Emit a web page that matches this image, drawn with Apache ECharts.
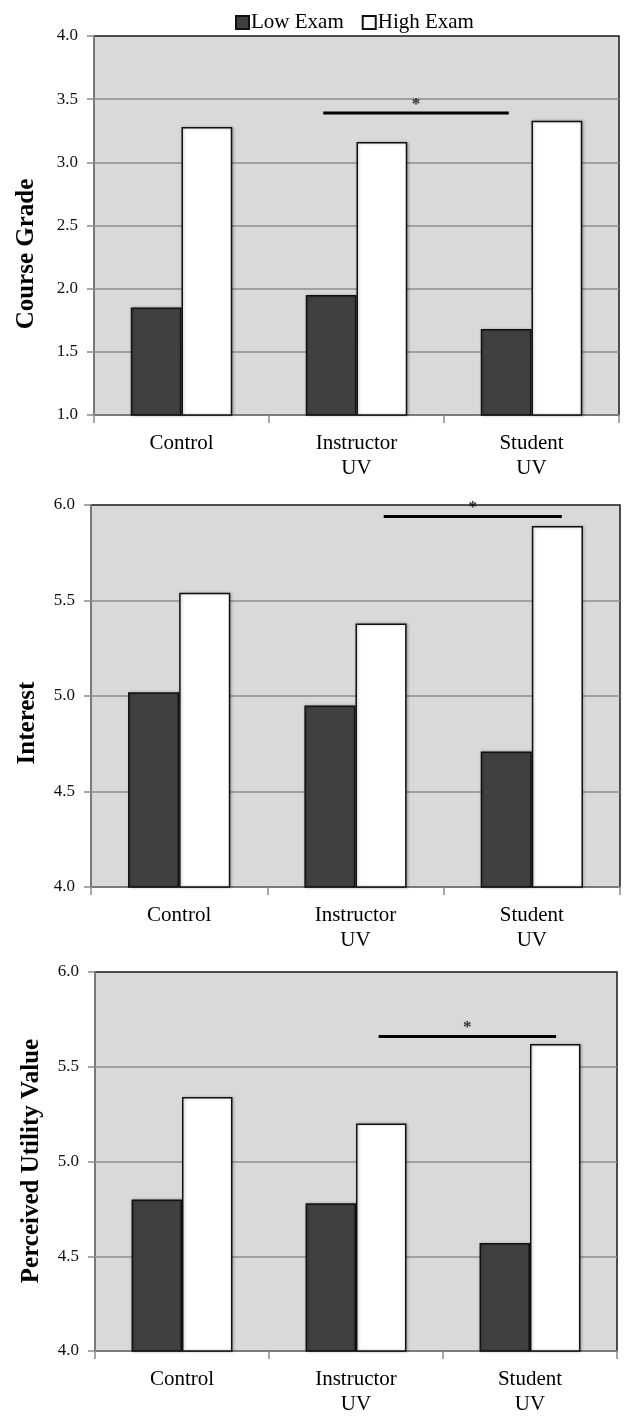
<!DOCTYPE html>
<html>
<head>
<meta charset="utf-8">
<script src="https://cdn.jsdelivr.net/npm/echarts@6/dist/echarts.min.js"></script>
<style>
html,body{margin:0;padding:0;background:#fff;}
#main{width:625px;height:1417px;}
</style>
</head>
<body>
<div id="main"></div>
<script>
// ---- data ----
var categories = ['Control', 'Instructor\nUV', 'Student\nUV'];
var seriesNames = ['Low Exam', 'High Exam'];
var gradeLow = [1.85, 1.95, 1.68];
var gradeHigh = [3.28, 3.16, 3.33];
var interestLow = [5.02, 4.95, 4.71];
var interestHigh = [5.54, 5.38, 5.89];
var utilityLow = [4.80, 4.78, 4.57];
var utilityHigh = [5.34, 5.20, 5.62];
var panelTitles = ['Course Grade', 'Interest', 'Perceived Utility Value'];
var yMins = [1, 4, 4];
var yMaxs = [4, 6, 6];
// significance bars: [category position, value]
var sigGrade = [[0.81, 3.39], [1.87, 3.39]];
var sigInterest = [[1.16, 5.94], [2.17, 5.94]];
var sigUtility = [[1.13, 5.66], [2.15, 5.66]];
var sigLabel = '*';

var FONT = 'Liberation Serif, Times New Roman, serif';
var lowData = [gradeLow, interestLow, utilityLow];
var highData = [gradeHigh, interestHigh, utilityHigh];
var sigData = [sigGrade, sigInterest, sigUtility];

var grids = [
  {left: 94, top: 36, right: 6, height: 379},
  {left: 91, top: 505, right: 5, height: 382},
  {left: 95, top: 972, right: 8, height: 384}
];
var titlePos = [[27, 254], [28, 723], [32, 1161]];

var xAxes = [], yAxes = [], series = [], graphics = [];
grids.forEach(function (g, i) {
  g.show = true;
  g.backgroundColor = '#d9d9d9';
  g.borderColor = '#1a1a1a';
  g.borderWidth = 1.5;
  xAxes.push({
    type: 'category', gridIndex: i, data: categories,
    axisLine: {lineStyle: {color: '#8a8a8a', width: 1.5}},
    axisTick: {show: true, length: 8, lineStyle: {color: '#8a8a8a', width: 1.5}},
    axisLabel: {color: '#000', fontFamily: FONT, fontSize: 21, lineHeight: 25, margin: 16}
  });
  yAxes.push({
    type: 'value', gridIndex: i, min: yMins[i], max: yMaxs[i], interval: 0.5,
    axisLine: {show: true, onZero: false, lineStyle: {color: '#8a8a8a', width: 1.5}},
    axisTick: {show: true, length: 7, lineStyle: {color: '#8a8a8a', width: 1.5}},
    splitLine: {show: true, showMaxLine: false, showMinLine: false,
      lineStyle: {color: '#8c8c8c', width: 1.5}},
    axisLabel: {color: '#111', fontFamily: FONT, fontSize: 17, margin: 16,
      formatter: function (v) { return v.toFixed(1); }}
  });
  graphics.push({
    type: 'text', x: titlePos[i][0], y: titlePos[i][1], rotation: Math.PI / 2,
    style: {text: panelTitles[i], fontFamily: FONT, fontSize: 25, fontWeight: 'bold',
      fill: '#000', textAlign: 'center', textVerticalAlign: 'middle'}
  });
});
// hidden value x axes for significance annotations
grids.forEach(function (g, i) {
  xAxes.push({type: 'value', gridIndex: i, min: -0.5, max: 2.5, show: false,
    splitLine: {show: false}, axisLine: {show: false}});
});

grids.forEach(function (g, i) {
  series.push({
    name: seriesNames[0], type: 'bar', xAxisIndex: i, yAxisIndex: i,
    data: lowData[i], barGap: '0%', barCategoryGap: '42%',
    itemStyle: {color: '#404040', borderColor: '#111', borderWidth: 1.5,
      shadowColor: 'rgba(0,0,0,0.25)', shadowBlur: 3, shadowOffsetX: 1, shadowOffsetY: 0},
    z: 3
  });
  series.push({
    name: seriesNames[1], type: 'bar', xAxisIndex: i, yAxisIndex: i,
    data: highData[i], barGap: '0%', barCategoryGap: '42%',
    itemStyle: {color: '#ffffff', borderColor: '#111', borderWidth: 1.5,
      shadowColor: 'rgba(0,0,0,0.25)', shadowBlur: 3, shadowOffsetX: 1, shadowOffsetY: 0},
    z: 3
  });
  var s = sigData[i];
  series.push({
    type: 'line', xAxisIndex: 3 + i, yAxisIndex: i, data: s,
    symbol: 'none', lineStyle: {color: '#000', width: 3}, z: 5, silent: true
  });
  series.push({
    type: 'scatter', xAxisIndex: 3 + i, yAxisIndex: i,
    data: [[(s[0][0] + s[1][0]) / 2, s[0][1]]],
    symbolSize: 0, z: 6, silent: true,
    label: {show: true, position: 'top', distance: 0, formatter: sigLabel,
      fontFamily: FONT, fontSize: 17, fontWeight: 'bold', color: '#000'}
  });
});

var chart = echarts.init(document.getElementById('main'), null, {renderer: 'canvas'});
chart.setOption({
  animation: false,
  backgroundColor: '#ffffff',
  legend: {
    data: seriesNames, left: 230, top: 7, icon: 'rect',
    itemWidth: 13, itemHeight: 13, itemGap: 18,
    textStyle: {fontFamily: FONT, fontSize: 21, color: '#000', padding: [0, 0, 0, -3]}
  },
  grid: grids,
  xAxis: xAxes,
  yAxis: yAxes,
  series: series,
  graphic: graphics
});
</script>
</body>
</html>
